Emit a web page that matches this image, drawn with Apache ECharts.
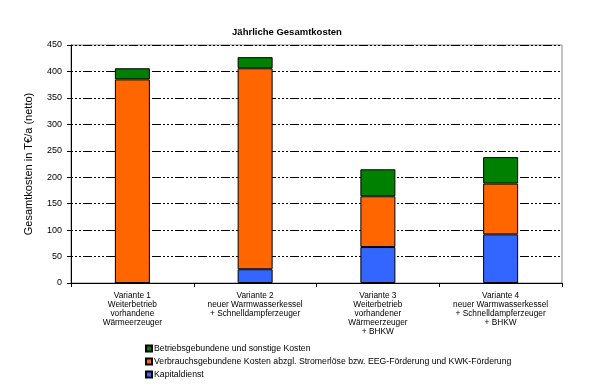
<!DOCTYPE html>
<html><head><meta charset="utf-8">
<script src="https://cdn.jsdelivr.net/npm/echarts@6/dist/echarts.min.js"></script>
<style>html,body{margin:0;padding:0;background:#fff}#c{width:603px;height:386px}</style>
</head><body><div id="c"></div>
<script>
const categories = [
  "Variante 1\nWeiterbetrieb\nvorhandene\nWärmeerzeuger",
  "Variante 2\nneuer Warmwasserkessel\n+ Schnelldampferzeuger",
  "Variante 3\nWeiterbetrieb\nvorhandener\nWärmeerzeuger\n+ BHKW",
  "Variante 4\nneuer Warmwasserkessel\n+ Schnelldampferzeuger\n+ BHKW"
];
const kapitaldienst = [0, 26, 68, 92];
const verbrauch = [385, 380, 96, 96];
const betrieb = [21, 21, 51, 50];
const nameBetrieb = "Betriebsgebundene und sonstige Kosten";
const nameVerbrauch = "Verbrauchsgebundene Kosten abzgl. Stromerlöse bzw. EEG-Förderung und KWK-Förderung";
const nameKapital = "Kapitaldienst";

const font = "Liberation Sans, Arial, sans-serif";
const chart = echarts.init(document.getElementById('c'));
const barStyle = c => ({color: c, borderColor: '#000', borderWidth: 1});
chart.setOption({
  animation: false,
  textStyle: {fontFamily: font},
  title: {text: "Jährliche Gesamtkosten", left: 282, top: 22, textAlign: 'center',
    textStyle: {fontSize: 9.5, fontWeight: 'bold', color: '#000', fontFamily: font}},
  grid: {left: 71, right: 41, top: 45, bottom: 103, show: true, borderColor: '#888', borderWidth: 1},
  legend: {
    orient: 'vertical', left: 140, top: 339, itemGap: 4, itemWidth: 6, itemHeight: 6,
    icon: 'rect', data: [nameBetrieb, nameVerbrauch, nameKapital],
    textStyle: {fontSize: 8.7, color: '#000', fontFamily: font, padding: [0,0,0,-3]}
  },
  xAxis: {
    type: 'category', data: categories,
    axisLine: {lineStyle: {color: '#000', width: 1}},
    axisTick: {show: true, alignWithLabel: false, length: 4, lineStyle: {color: '#000'}},
    axisLabel: {fontSize: 8.3, color: '#000', lineHeight: 9, margin: 8, fontFamily: font, interval: 0}
  },
  yAxis: {
    type: 'value', min: 0, max: 450, interval: 50,
    name: "Gesamtkosten in T€/a (netto)", nameLocation: 'middle', nameGap: 37, nameRotate: 90,
    nameTextStyle: {fontSize: 11, color: '#000', fontFamily: font},
    axisLine: {show: true, lineStyle: {color: '#000', width: 1}},
    axisTick: {show: true, length: 4, lineStyle: {color: '#000'}},
    axisLabel: {fontSize: 9, color: '#000', margin: 9, fontFamily: font},
    splitLine: {show: true, lineStyle: {color: '#000', width: 1, type: [2,2,2,2,2,2,9,2]}}
  },
  series: [
    {name: nameKapital, type: 'bar', stack: 's', data: kapitaldienst, barWidth: 35, itemStyle: barStyle('#3366FF')},
    {name: nameVerbrauch, type: 'bar', stack: 's', data: verbrauch, barWidth: 35, itemStyle: barStyle('#FF6600')},
    {name: nameBetrieb, type: 'bar', stack: 's', data: betrieb, barWidth: 35, itemStyle: barStyle('#008000')}
  ]
});
</script></body></html>
